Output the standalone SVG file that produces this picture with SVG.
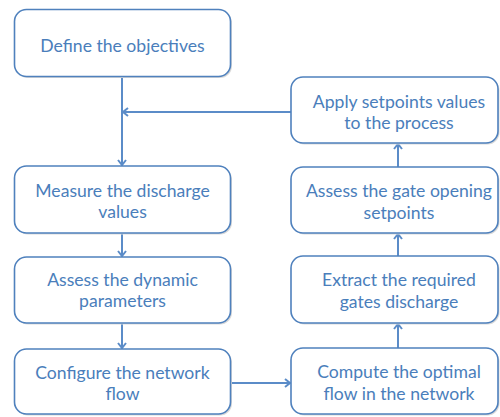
<svg xmlns="http://www.w3.org/2000/svg" width="500" height="417" viewBox="0 0 500 417">
<style>
.box{fill:#fff;stroke:#4f81bd;stroke-width:1.6}
.sh{fill:#d9d9d9;stroke:none}
.t{font-family:Lato,"Open Sans",sans-serif;font-size:17.6px;fill:#4a7ebb;text-anchor:middle}
.c{fill:none;stroke:#5b8cc8;stroke-width:2}
</style>
<defs>
<marker id="ah" viewBox="0 0 10 10" refX="9" refY="5" markerWidth="10" markerHeight="10" orient="auto" markerUnits="userSpaceOnUse">
<path d="M4,1 L9,5 L4,9" fill="none" stroke="#5b8cc8" stroke-width="2"/>
</marker>
</defs>
<g id="connectors">
<path class="c" d="M122,77 V165" marker-end="url(#ah)"/>
<path class="c" d="M291,112 H123" marker-end="url(#ah)"/>
<path class="c" d="M122,233 V256" marker-end="url(#ah)"/>
<path class="c" d="M122,323 V348" marker-end="url(#ah)"/>
<path class="c" d="M231,383 H290" marker-end="url(#ah)"/>
<path class="c" d="M398,348 V324" marker-end="url(#ah)"/>
<path class="c" d="M398,256 V234" marker-end="url(#ah)"/>
<path class="c" d="M398,167 V144" marker-end="url(#ah)"/>
</g>
<g id="n1"><rect class="sh" x="16" y="11" width="216" height="67" rx="12"/><rect class="box" x="14.5" y="9.5" width="216" height="67" rx="12"/><text class="t" x="122.5" y="52">Define the objectives</text></g>
<g id="n2"><rect class="sh" x="16" y="167.5" width="216" height="67" rx="12"/><rect class="box" x="14.5" y="166" width="216" height="67" rx="12"/><text class="t" x="122.5" y="197">Measure the discharge</text><text class="t" x="122.5" y="218">values</text></g>
<g id="n3"><rect class="sh" x="16" y="258.5" width="216" height="66" rx="12"/><rect class="box" x="14.5" y="257" width="216" height="66" rx="12"/><text class="t" x="122.5" y="286">Assess the dynamic</text><text class="t" x="122.5" y="307">parameters</text></g>
<g id="n4"><rect class="sh" x="16" y="350.5" width="216" height="65" rx="12"/><rect class="box" x="14.5" y="349" width="216" height="65" rx="12"/><text class="t" x="122.5" y="379">Configure the network</text><text class="t" x="122.5" y="400">flow</text></g>
<g id="r1"><rect class="sh" x="292.5" y="78.5" width="207" height="66" rx="12"/><rect class="box" x="291" y="77" width="207" height="66" rx="12"/><text class="t" x="399" y="108">Apply setpoints values</text><text class="t" x="399" y="129">to the process</text></g>
<g id="r2"><rect class="sh" x="292.5" y="168.5" width="207" height="66" rx="12"/><rect class="box" x="291" y="167" width="207" height="66" rx="12"/><text class="t" x="399" y="197">Assess the gate opening</text><text class="t" x="399" y="219">setpoints</text></g>
<g id="r3"><rect class="sh" x="292.5" y="257.5" width="207" height="67" rx="12"/><rect class="box" x="291" y="256" width="207" height="67" rx="12"/><text class="t" x="399" y="286">Extract the required</text><text class="t" x="399" y="308">gates discharge</text></g>
<g id="r4"><rect class="sh" x="292.5" y="349.5" width="207" height="66" rx="12"/><rect class="box" x="291" y="348" width="207" height="66" rx="12"/><text class="t" x="399" y="378">Compute the optimal</text><text class="t" x="399" y="400">flow in the network</text></g>
</svg>
